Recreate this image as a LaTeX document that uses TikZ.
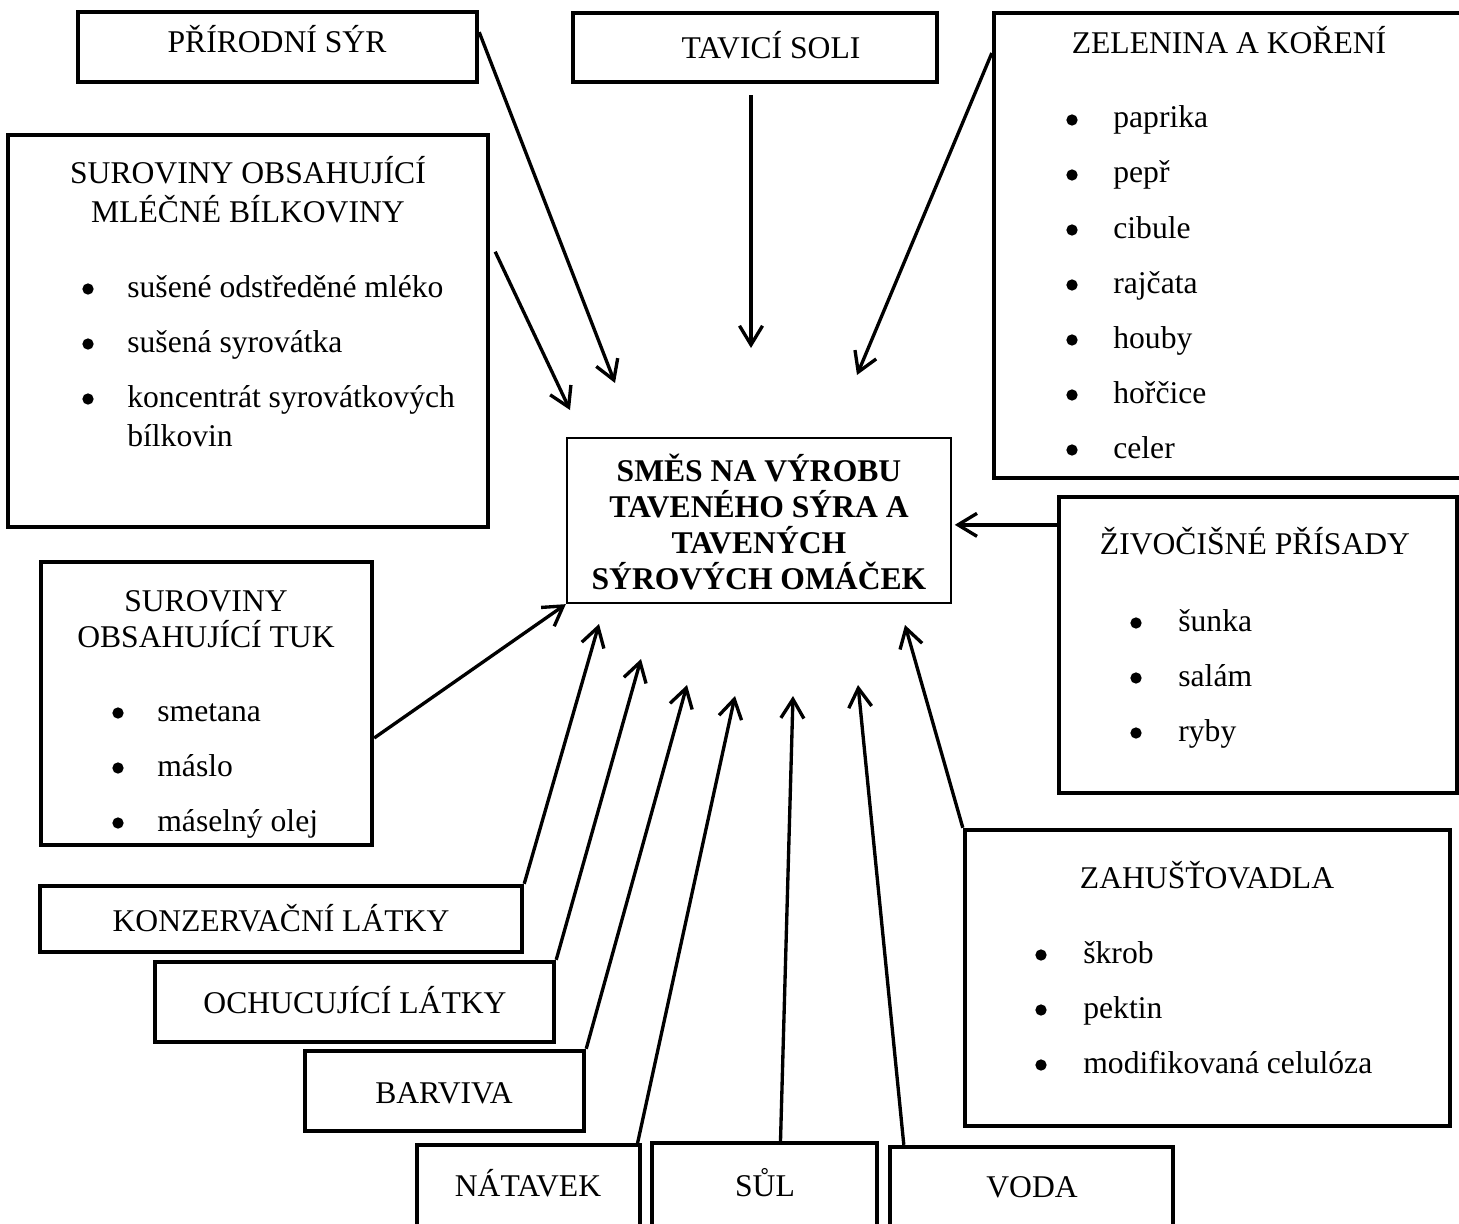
\documentclass[tikz,border=0pt]{standalone}
\usepackage{fontspec}
\setmainfont{Liberation Serif}
\usetikzlibrary{arrows.meta,calc,fit}
\newcommand{\mainsize}{\fontsize{18pt}{21.5pt}\selectfont}
\tikzset{
  framebox/.style={draw, line width=2.5pt, inner sep=0pt},
  mixbox/.style={draw, line width=1.3pt, inner sep=0pt},
  mixtext/.style={inner sep=0pt, align=center, font=\fontsize{18pt}{20.5pt}\selectfont\bfseries},
  feedarrow/.style={-{Straight Barb[length=3.8mm,width=4.6mm]}, line width=1.9pt},
  headtext/.style={anchor=base, inner sep=0pt, font=\mainsize},
  itemtext/.style={anchor=base west, inner sep=0pt, font=\mainsize},
  bulletdot/.style={fill=black, draw=black, line width=3pt},
}

\begin{document}
\begin{tikzpicture}[x=0.02cm,y=-0.02cm]
\useasboundingbox (0,0) rectangle (1459,1223);
\fill[white] (0,0) rectangle (1459,1223);
\clip (0,0) rectangle (1459,1223);

% central mixture
\node[mixbox, fit={(567,438) (951,603)}] (smes) {};
\node[mixtext] (smes-t) at (759,522) {SMĚS NA VÝROBU\\TAVENÉHO SÝRA A\\TAVENÝCH\\SÝROVÝCH OMÁČEK};

% one-line boxes
\foreach \name/\xa/\ya/\xb/\yb/\cx/\by/\lab in {
    prir/78/12/477/82/277/53/PŘÍRODNÍ SÝR,
    tav/573/13/937/82/771/59/TAVICÍ SOLI,
    konz/40/886/522/952/281/931/KONZERVAČNÍ LÁTKY,
    och/155/962/554/1042/355/1013/OCHUCUJÍCÍ LÁTKY,
    barv/305/1051/584/1131/444/1103/BARVIVA,
    nat/417/1145/640/1232/528/1196/NÁTAVEK,
    sul/652/1143/877/1232/765/1196/SŮL,
    voda/890/1147/1173/1232/1032/1197/VODA}{
  \node[framebox, fit={(\xa,\ya) (\xb,\yb)}] (\name) {};
  \node[headtext] (\name-t) at (\cx,\by) {\lab};
}

% vegetables and spices
\node[framebox, fit={(994,13) (1470,478)}] (zel) {};
\node[headtext] (zel-t) at (1229,54) {ZELENINA A KOŘENÍ};
\foreach \lab [count=\i] in {paprika,pepř,cibule,rajčata,houby,hořčice,celer}{
  \node[itemtext] (zel-\i) at (1113,73+55*\i) {\lab};
  \filldraw[bulletdot] ($(zel-\i.base west)+(-41,-8)$) circle[radius=1.6pt];
}

% left column
\node[framebox, fit={(8,135) (488,527)}] (mleko) {};
\node[headtext] (mleko-t1) at (248,184) {SUROVINY OBSAHUJÍCÍ};
\node[headtext] (mleko-t2) at (248,222) {MLÉČNÉ BÍLKOVINY};
\foreach \lab [count=\i] in {sušené odstředěné mléko,sušená syrovátka,koncentrát syrovátkových}{
  \node[itemtext] (mleko-\i) at (127,242+55*\i) {\lab};
  \filldraw[bulletdot] ($(mleko-\i.base west)+(-39,-8)$) circle[radius=1.6pt];
}
\node[itemtext] (mleko-4) at (127,446) {bílkovin};

\node[framebox, fit={(41,562) (372,845)}] (tuk) {};
\node[headtext] (tuk-t1) at (206,611) {SUROVINY};
\node[headtext] (tuk-t2) at (206,647) {OBSAHUJÍCÍ TUK};
\foreach \lab [count=\i] in {smetana,máslo,máselný olej}{
  \node[itemtext] (tuk-\i) at (157,666+55*\i) {\lab};
  \filldraw[bulletdot] ($(tuk-\i.base west)+(-39,-8)$) circle[radius=1.6pt];
}

% right column
\node[framebox, fit={(1059,497) (1457,793)}] (ziv) {};
\node[headtext] (ziv-t) at (1255,554) {ŽIVOČIŠNÉ PŘÍSADY};
\foreach \lab [count=\i] in {šunka,salám,ryby}{
  \node[itemtext] (ziv-\i) at (1178,576+55*\i) {\lab};
  \filldraw[bulletdot] ($(ziv-\i.base west)+(-42,-8)$) circle[radius=1.6pt];
}

\node[framebox, fit={(965,830) (1450,1126)}] (zah) {};
\node[headtext] (zah-t) at (1207,888) {ZAHUŠŤOVADLA};
\foreach \lab [count=\i] in {škrob,pektin,modifikovaná celulóza}{
  \node[itemtext] (zah-\i) at (1083,908+55*\i) {\lab};
  \filldraw[bulletdot] ($(zah-\i.base west)+(-42,-8)$) circle[radius=1.6pt];
}

% free arrow tips
\foreach \name/\x/\y in {prir/615/383, mleko/570/410, tav/751/348, zel/857/375, konz/599/624, och/641/659, barv/687/685, nat/735/696, sul/793/696, voda/858/685, zah/905/625}
  \coordinate (\name-tip) at (\x,\y);

% arrows
\draw[feedarrow] ($(prir.north east)!0.3!(prir.south east)$) -- (prir-tip);
\draw[feedarrow] ($(mleko.north east)!0.3!(mleko.south east)+(5,0)$) -- (mleko-tip);
\draw[feedarrow] ($(tav.south)+(-4,11)$) -- (tav-tip);
\draw[feedarrow] ($(zel.north west)!0.09!(zel.south west)$) -- (zel-tip);
\draw[feedarrow, shorten >=1.5pt] ($(ziv.north west)!0.1!(ziv.south west)$) coordinate (ziv-out) -- (ziv-out -| smes.east);
\draw[feedarrow] ($(tuk.north east)!0.62!(tuk.south east)$) -- (smes.south west);
\foreach \src in {konz,och,barv}
  \draw[feedarrow] (\src.north east) -- (\src-tip);
\draw[feedarrow] ($(nat.north east)+(-5,2)$) -- (nat-tip);
\draw[feedarrow] ($(sul.north)+(16,0)$) -- (sul-tip);
\draw[feedarrow] ($(voda.north west)+(16,0)$) -- (voda-tip);
\draw[feedarrow] (zah.north west) -- (zah-tip);
\end{tikzpicture}
\end{document}
